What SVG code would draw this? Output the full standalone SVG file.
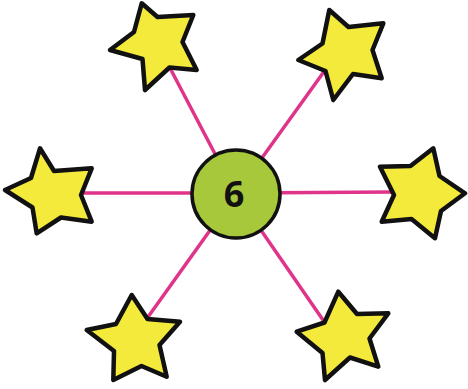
<svg xmlns="http://www.w3.org/2000/svg" width="468" height="389" viewBox="0 0 468 389">
<style>
.star{fill:#f3ea3c;stroke:#111;stroke-width:4.5;stroke-linejoin:round}
.conn{stroke:#e0338a;stroke-width:3.5;stroke-linecap:round;fill:none}
.hub{fill:#a6c83a;stroke:#111;stroke-width:3.5}
.lbl{font-family:"Open Sans","Liberation Sans",sans-serif;font-weight:700;font-size:36px;fill:#111;text-anchor:middle}
</style>
<rect width="468" height="389" fill="#fff"/>
<g id="connectors">
<line class="conn" x1="236" y1="194" x2="170" y2="68"/>
<line class="conn" x1="236" y1="194" x2="323" y2="73"/>
<line class="conn" x1="236" y1="193" x2="82" y2="193"/>
<line class="conn" x1="236" y1="193" x2="393" y2="192"/>
<line class="conn" x1="236" y1="194" x2="148" y2="317"/>
<line class="conn" x1="236" y1="194" x2="323" y2="320"/>
</g>
<g id="star-top-left"><polygon class="star" points="141.7,3.3 157.5,17 193.3,15 182.5,42 196.7,70 169.5,67.5 145,90 142.5,59 110,50 134,32"/></g>
<g id="star-top-right"><polygon class="star" points="329.3,10 348.5,27 383.3,23.3 372.5,50 381.7,78.3 353,74 333.3,100 325.5,71 298.3,60 322.5,43.5"/></g>
<g id="star-left"><polygon class="star" points="40,148.3 54,171 91.7,168.3 81,195 91.7,221.7 61,217.5 36.7,233.3 32.5,207.5 5,190 31,178"/></g>
<g id="star-right"><polygon class="star" points="433.3,148.3 439.5,176 465,193.3 441,211 435,238.3 411.5,219 381.7,221.7 394,195 380,166.7 410.5,166"/></g>
<g id="star-bottom-left"><polygon class="star" points="131.7,295 147.5,319 180,321.7 159.5,345 166.7,376.7 141.5,366 113.3,380 114,351 86.7,330 116,324"/></g>
<g id="star-bottom-right"><polygon class="star" points="338.3,291.7 357,314 388.3,313.3 369.5,338.5 378.3,366.7 350,357.5 325,380 322.5,353 296.7,331.7 324.5,322.5"/></g>
<g id="hub">
<circle class="hub" cx="236" cy="194" r="44"/>
<text class="lbl" x="234" y="207">6</text>
</g>
</svg>
